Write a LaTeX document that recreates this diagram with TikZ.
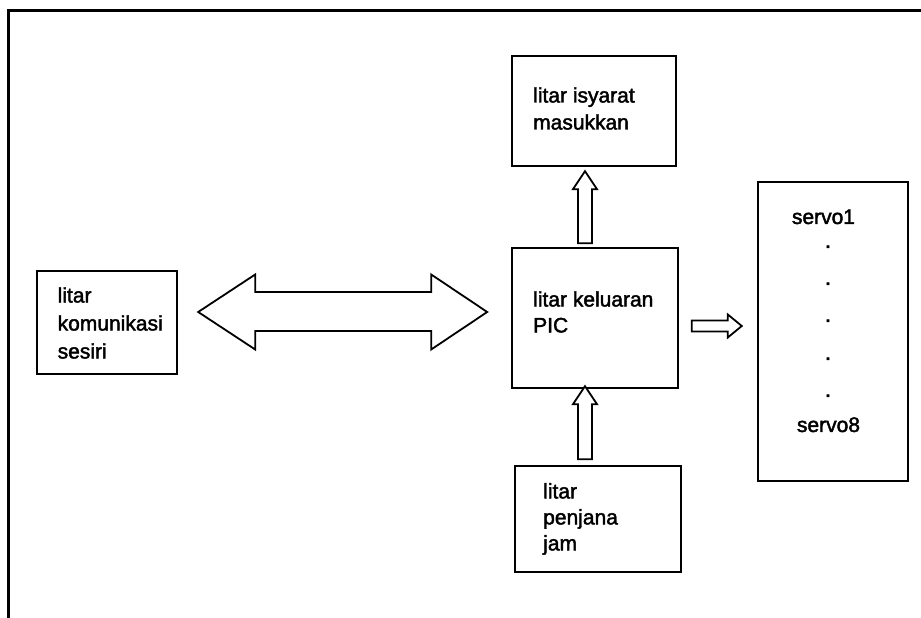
\documentclass[tikz,border=0pt]{standalone}
\usepackage{fontspec}
\setmainfont[FakeBold=2]{Liberation Sans}
\usetikzlibrary{calc}
\begin{document}
\begin{tikzpicture}[x=1pt,y=1pt,
  blockbox/.style={draw=black,line width=2.4pt,rectangle,inner sep=0pt},
  lbl/.style={anchor=west,align=left,inner sep=0pt,font=\fontsize{21}{27}\selectfont},
  dotlbl/.style={anchor=base,inner sep=0pt,font=\fontsize{23}{27}\selectfont},
  hollow/.style={draw=black,line width=1.8pt,fill=white,line join=miter}]
\useasboundingbox (0,0) rectangle (921,618);
% outer frame
\draw[line width=3pt] (8,0) -- (8,607.5) -- (921,607.5);
% boxes
\node[blockbox,minimum width=140pt,minimum height=103pt] (com) at (107,295.5) {};
\node[blockbox,minimum width=164pt,minimum height=110pt] (inp) at (594,507) {};
\node[blockbox,minimum width=166pt,minimum height=140pt] (pic) at (595,300) {};
\node[blockbox,minimum width=166pt,minimum height=106pt] (clk) at (598,99) {};
\node[blockbox,minimum width=150pt,minimum height=299pt] (srv) at (833,286.5) {};
% texts
\node[lbl,font=\fontsize{21}{28}\selectfont] (tcom) at (57.5,295) {litar\\komunikasi\\sesiri};
\node[lbl] (tinp) at (533,509.5) {litar isyarat\\masukkan};
\node[lbl,font=\fontsize{21}{26}\selectfont] (tpic) at (533,306) {litar keluaran\\PIC};
\node[lbl,font=\fontsize{21}{26}\selectfont] (tclk) at (543,99) {litar\\penjana\\jam};
\node[anchor=base,inner sep=0pt,font=\fontsize{21}{27}\selectfont] (s1) at (823.5,394) {servo1};
\node[anchor=base,inner sep=0pt,font=\fontsize{21}{27}\selectfont] (s8) at (828.5,186) {servo8};
\node[dotlbl] (d1) at (828,370) {\smash{.}};
\node[dotlbl] (d2) at (828,333) {\smash{.}};
\node[dotlbl] (d3) at (828,296) {\smash{.}};
\node[dotlbl] (d4) at (828,258) {\smash{.}};
\node[dotlbl] (d5) at (828,221) {\smash{.}};
% double arrow between com and pic
\draw[hollow] ($(com.east)+(20,10.5)$) -- ++(57,37.5) -- ++(0,-17.5) -- ++(176,0) -- ++(0,17.5)
  -- ++(56,-37.5) -- ++(-56,-37.5) -- ++(0,18.5) -- ++(-176,0) -- ++(0,-18.5) -- cycle;
% up arrow pic -> inp
\draw[hollow] ($(inp.south)+(-9,-4)$) -- ++(12,-18) -- ++(-5,0) -- ++(0,-54) -- ++(-14,0) -- ++(0,54) -- ++(-5,0) -- cycle;
% up arrow clk -> pic
\draw[hollow] ($(pic.south)+(-10,3)$) -- ++(12,-18) -- ++(-5,0) -- ++(0,-55) -- ++(-14,0) -- ++(0,55) -- ++(-5,0) -- cycle;
% right arrow pic -> srv
\draw[hollow] ($(srv.west)+(-15,5.5)$) -- ++(-14,11.5) -- ++(0,-6) -- ++(-36,0) -- ++(0,-11) -- ++(36,0) -- ++(0,-6) -- cycle;
\end{tikzpicture}
\end{document}
